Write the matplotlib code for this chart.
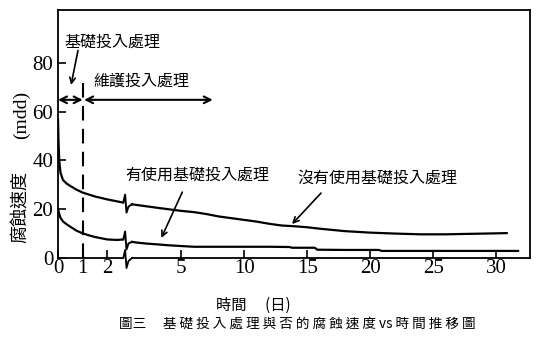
import numpy as np
import matplotlib
matplotlib.use("Agg")
import matplotlib.pyplot as plt

cjk = ["Noto Sans CJK TC", "DejaVu Sans"]
serif = "Liberation Serif"

# corrosion rate without the basic dosing (mdd), days
days_no_a = [0, 0.02, 0.05, 0.1, 0.2, 0.35, 0.5, 0.75, 1, 1.5, 2, 2.5, 2.65]
rate_no_a = [57, 48, 40, 35, 32, 30.5, 29.5, 28, 26.8, 25.2, 24, 23, 22.7]
days_no_b = [3.0, 3.5, 4, 5, 6, 7, 8, 9, 10, 11, 12, 13, 14, 15, 16, 17, 18,
             19, 20, 22, 24, 26, 28, 30, 30.85]
rate_no_b = [22, 21.3, 20.6, 19.3, 18.8, 18.0, 17.0, 16.3, 15.6, 14.9, 14.0,
             13.3, 13.0, 12.6, 12.0, 11.5, 11.0, 10.7, 10.4, 10.0, 9.7, 9.7,
             9.9, 10.1, 10.2]

# corrosion rate with the basic dosing
days_yes_a = [0, 0.05, 0.1, 0.2, 0.35, 0.5, 0.75, 1, 1.25, 1.5, 2, 2.4, 2.65]
rate_yes_a = [20, 18, 16.5, 15, 13.8, 12.8, 11.2, 10.1, 9.3, 8.6, 7.6, 7.4, 7.6]
days_yes_b = [3.0, 3.3, 3.6, 4, 4.5, 5, 6, 8, 10, 12, 13.6, 13.8, 15.6, 15.8,
              18, 20.7, 20.9, 25, 31.75]
rate_yes_b = [6.6, 6.2, 5.9, 5.6, 5.2, 4.9, 4.6, 4.6, 4.6, 4.6, 4.5, 4.2, 4.2,
              3.4, 3.3, 3.3, 2.9, 2.9, 2.9]

xticks = [0, 1, 2, 5, 10, 15, 20, 25, 30]
yticks = [0, 20, 40, 60, 80]
break_day = 2.75

# axis is stretched below day 5
knots_d = [0, 5, 60]
knots_p = [0, 123, 123 + 55 * 12.56]
fwd = lambda x: np.interp(x, knots_d, knots_p)
inv = lambda p: np.interp(p, knots_p, knots_d)

fig = plt.figure(figsize=(5.51, 3.52), dpi=100)
ax = fig.add_axes([58 / 551, 94 / 352, 472 / 551, 248 / 352])
ax.set_xscale("function", functions=(fwd, inv))
ax.set_xlim(-0.04, 32.7)
ax.set_ylim(0, 101.6)

for s in ax.spines.values():
    s.set_linewidth(1.3)
ax.spines["bottom"].set_visible(False)

ax.set_xticks(xticks)
ax.set_yticks(yticks)
ax.tick_params(direction="in", length=6, width=1.2, labelsize=15, pad=1)
ax.tick_params(axis="y", pad=3.5)
for lab in ax.get_xticklabels() + ax.get_yticklabels():
    lab.set_fontfamily(serif)


def squiggle(x0, y0, pts):
    # break mark given in pixel offsets around a data point
    base = ax.transData.transform((x0, y0))
    disp = base + np.array(pts) * fig.dpi / 100
    d = ax.transData.inverted().transform(disp)
    return d[:, 0], d[:, 1]


shape = [(-2.5, 0), (-0.7, 8), (0.7, -10), (2.7, -4)]

for da, ra, db, rb in [(days_no_a, rate_no_a, days_no_b, rate_no_b),
                       (days_yes_a, rate_yes_a, days_yes_b, rate_yes_b)]:
    ax.plot(da, ra, color="black", lw=1.6, solid_capstyle="butt")
    sx, sy = squiggle(break_day, ra[-1], shape)
    ax.plot(list(sx) + [db[0]], list(sy) + [rb[0]], color="black", lw=1.4)
    ax.plot(db, rb, color="black", lw=1.6)

# bottom axis with its break
ax.plot([-0.04, 2.65], [0, 0], color="black", lw=1.3, clip_on=False)
sx, sy = squiggle(break_day, 0, [(-2.5, 0), (-0.7, 8), (0.7, -10), (2.7, -3), (6.2, 0)])
ax.plot(sx, sy, color="black", lw=1.3, clip_on=False)
ax.plot([3.0, 32.7], [0, 0], color="black", lw=1.3, clip_on=False)

# dosing boundary
ax.plot([1, 1], [0, 72], color="black", lw=1.5, dashes=(7, 4))

arrow2 = dict(arrowstyle="<->", lw=1.5, color="black", mutation_scale=12,
              shrinkA=0, shrinkB=0)
ax.annotate("", xy=(0, 64.8), xytext=(1, 64.8), arrowprops=arrow2)
ax.annotate("", xy=(1.06, 64.8), xytext=(7.5, 64.8), arrowprops=arrow2)

ptr = dict(arrowstyle="->", lw=1.2, color="black", mutation_scale=10,
           shrinkA=0, shrinkB=0)
ax.annotate("", xy=(0.53, 70.9), xytext=(0.81, 85), arrowprops=ptr)
ax.annotate("", xy=(4.19, 8.2), xytext=(5.08, 27), arrowprops=ptr)
ax.annotate("", xy=(13.8, 13.9), xytext=(16.1, 26.6), arrowprops=ptr)

ax.text(2.2, 88.5, "基礎投入處理", family=cjk, fontsize=11.5,
        ha="center", va="center")
ax.text(3.39, 72.3, "維護投入處理", family=cjk, fontsize=11.5,
        ha="center", va="center")
ax.text(6.31, 34, "有使用基礎投入處理", family=cjk, fontsize=11.5,
        ha="center", va="center")
ax.text(20.6, 32.6, "沒有使用基礎投入處理", family=cjk, fontsize=11.5,
        ha="center", va="center")

fig.text(20 / 551, 1 - 207 / 352, "腐蝕速度", family=cjk, fontsize=13,
         rotation=90, ha="center", va="center")
fig.text(21 / 551, 1 - 115 / 352, "(mdd)", family=serif, fontsize=14,
         rotation=90, ha="center", va="center")
fig.text(253 / 551, 1 - 305 / 352, "時間　 (日)", family=cjk, fontsize=11,
         ha="center", va="center")
fig.text(297 / 551, 1 - 324 / 352,
         "圖三　 基 礎 投 入 處 理 與 否 的 腐 蝕 速 度 vs 時 間 推 移 圖",
         family=cjk, fontsize=9.8, ha="center", va="center")

fig.savefig("out.png", dpi=100, facecolor="white")
